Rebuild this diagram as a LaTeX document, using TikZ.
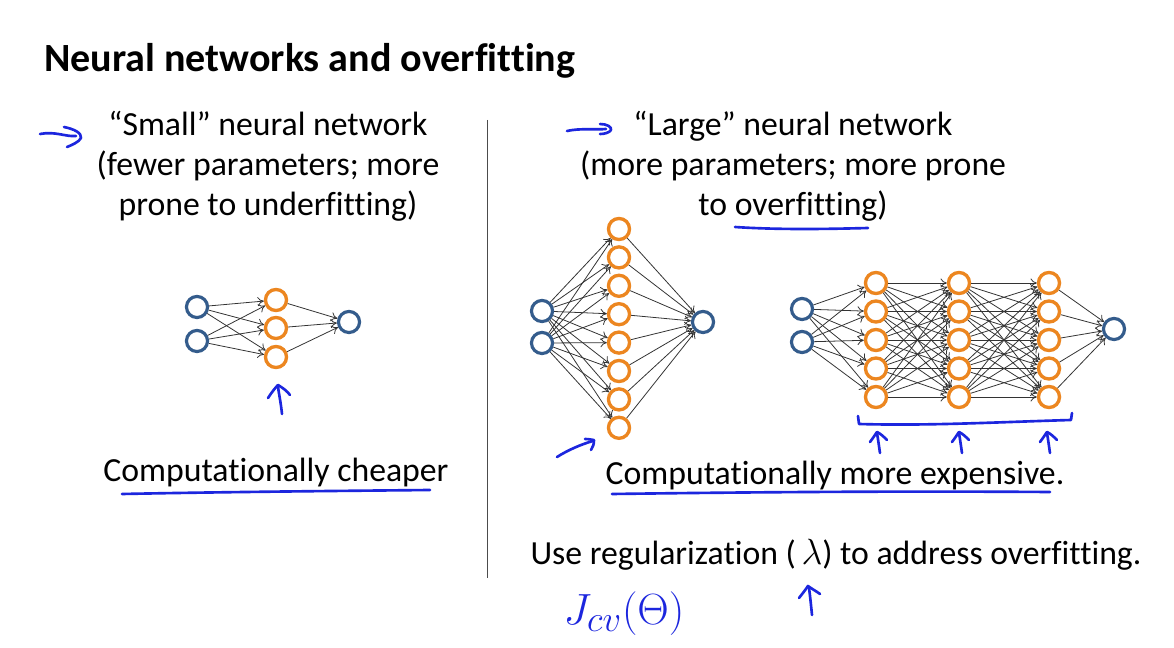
\documentclass[tikz,border=0pt]{standalone}
\usepackage{fontspec}
\setmainfont{Carlito}[Ligatures=NoCommon]
\usetikzlibrary{arrows.meta}

\definecolor{unitblue}{RGB}{52,92,140}
\definecolor{unitorange}{RGB}{236,134,32}
\definecolor{pen}{RGB}{28,38,222}

\tikzset{
  inunit/.style={circle, draw=unitblue, line width=1.8pt, minimum size=12pt, inner sep=0pt},
  hidunit/.style={circle, draw=unitorange, line width=1.9pt, minimum size=12pt, inner sep=0pt},
  wire/.style={draw=black!80, line width=0.45pt, -{To[length=3.6pt,width=5.2pt]}},
  ink/.style={draw=pen, line width=1.5pt, line cap=round, line join=round},
  body/.style={font=\fontsize{19.2}{22.8}\selectfont, align=center, inner sep=0pt}
}

\begin{document}
\begin{tikzpicture}[x=0.02cm, y=-0.02cm]
  \useasboundingbox[fill=white] (0,0) rectangle (1174,648);

  % titel
  \node[anchor=base west, inner sep=0pt, font=\fontsize{22.8}{26}\bfseries\selectfont] (title) at (44,72) {Neural networks and overfitting};

  % scheidingslijn
  \draw[black!70, line width=0.5pt] (487,120) -- (487,578);

  % koppen
  \node[body, anchor=north] (smallhead) at (268,111) {“Small” neural network\\(fewer parameters; more\\prone to underfitting)};
  \node[body, anchor=north] (largehead) at (793,111) {“Large” neural network\\(more parameters; more prone\\to overfitting)};

  % klein netwerk
  \node[inunit] (s-i1) at (197,307) {};
  \node[inunit] (s-i2) at (197,341) {};
  \foreach \j/\y in {1/300,2/328,3/357}
    \node[hidunit] (s-h\j) at (276,\y) {};
  \node[inunit] (s-o) at (349,322) {};
  \foreach \i in {1,2}
    \foreach \j in {1,2,3}
      \draw[wire] (s-i\i) -- (s-h\j);
  \foreach \j in {1,2,3}
    \draw[wire] (s-h\j) -- (s-o);

  % breed netwerk
  \node[inunit] (m-i1) at (542,311) {};
  \node[inunit] (m-i2) at (542,343) {};
  \foreach \j in {1,...,8}
    \node[hidunit] (m-h\j) at (619,{229+28.4*(\j-1)}) {};
  \node[inunit] (m-o) at (703,322) {};
  \foreach \i in {1,2}
    \foreach \j in {1,...,8}
      \draw[wire] (m-i\i) -- (m-h\j);
  \foreach \j in {1,...,8}
    \draw[wire] (m-h\j) -- (m-o);

  % diep netwerk
  \node[inunit] (d-i1) at (802,309) {};
  \node[inunit] (d-i2) at (802,342) {};
  \foreach \l/\x in {1/876,2/959,3/1049}
    \foreach \j in {1,...,5}
      \node[hidunit] (d-h\l-\j) at (\x,{283+28.5*(\j-1)}) {};
  \node[inunit] (d-o) at (1114,329) {};
  \foreach \i in {1,2}
    \foreach \j in {1,...,5}
      \draw[wire] (d-i\i) -- (d-h1-\j);
  \foreach \l/\n in {1/2,2/3}
    \foreach \j in {1,...,5}
      \foreach \k in {1,...,5}
        \draw[wire] (d-h\l-\j) -- (d-h\n-\k);
  \foreach \j in {1,...,5}
    \draw[wire] (d-h3-\j) -- (d-o);

  % onderschriften
  \node[body, anchor=base] (cheap) at (276,482) {Computationally cheaper};
  \node[body, anchor=base] (costly) at (835,485) {Computationally more expensive.};
  \node[body, anchor=base] (reg) at (836,565) {Use regularization (\,$\lambda$) to address overfitting.};

  % handgeschreven aantekeningen
  \draw[ink] (40,134) .. controls (55,131) and (66,137) .. (76,136);
  \draw[ink] (64,127) .. controls (74,129) and (82,133) .. (81,138) .. controls (79,142) and (72,145) .. (67,147);
  \draw[ink] (567,131) .. controls (580,128) and (595,130) .. (606,129);
  \draw[ink] (600,124) .. controls (607,124) and (612,127) .. (611,130) .. controls (609,133) and (604,134) .. (600,134);
  \draw[ink] (735,227) .. controls (780,230) and (830,229) .. (868,228);

  \draw[ink] (282,414) .. controls (281,404) and (279,394) .. (278,387);
  \draw[ink] (268,398) .. controls (272,392) and (275,388) .. (278,385) .. controls (283,388) and (287,391) .. (290,395);

  \draw[ink] (557,457) .. controls (568,450) and (582,444) .. (593,441);
  \draw[ink] (585,439) .. controls (589,439) and (593,440) .. (594,440) .. controls (594,444) and (593,447) .. (591,450);

  \draw[ink] (858,416) -- (859,424) .. controls (930,426) and (1000,422) .. (1071,420) -- (1072,413);
  \foreach \x in {878,960,1048} {
    \draw[ink] (\x+2,453) .. controls (\x+1,446) and (\x,439) .. (\x-1,433);
    \draw[ink] (\x-8,442) .. controls (\x-5,438) and (\x-3,435) .. (\x-1,432) .. controls (\x+3,434) and (\x+6,437) .. (\x+9,440);
  }

  \draw[ink] (122,494) .. controls (220,492) and (330,491) .. (430,490);
  \draw[ink] (612,494) .. controls (760,492) and (900,491) .. (1050,492);

  \draw[ink] (812,615) .. controls (811,605) and (810,595) .. (809,588);
  \draw[ink] (799,598) .. controls (803,593) and (806,589) .. (808,586) .. controls (812,589) and (816,591) .. (820,594);

  \node[text=pen, inner sep=0pt, font=\fontsize{28}{30}\selectfont] (jcv) at (624,614) {$J_{cv}(\Theta)$};
\end{tikzpicture}
\end{document}
